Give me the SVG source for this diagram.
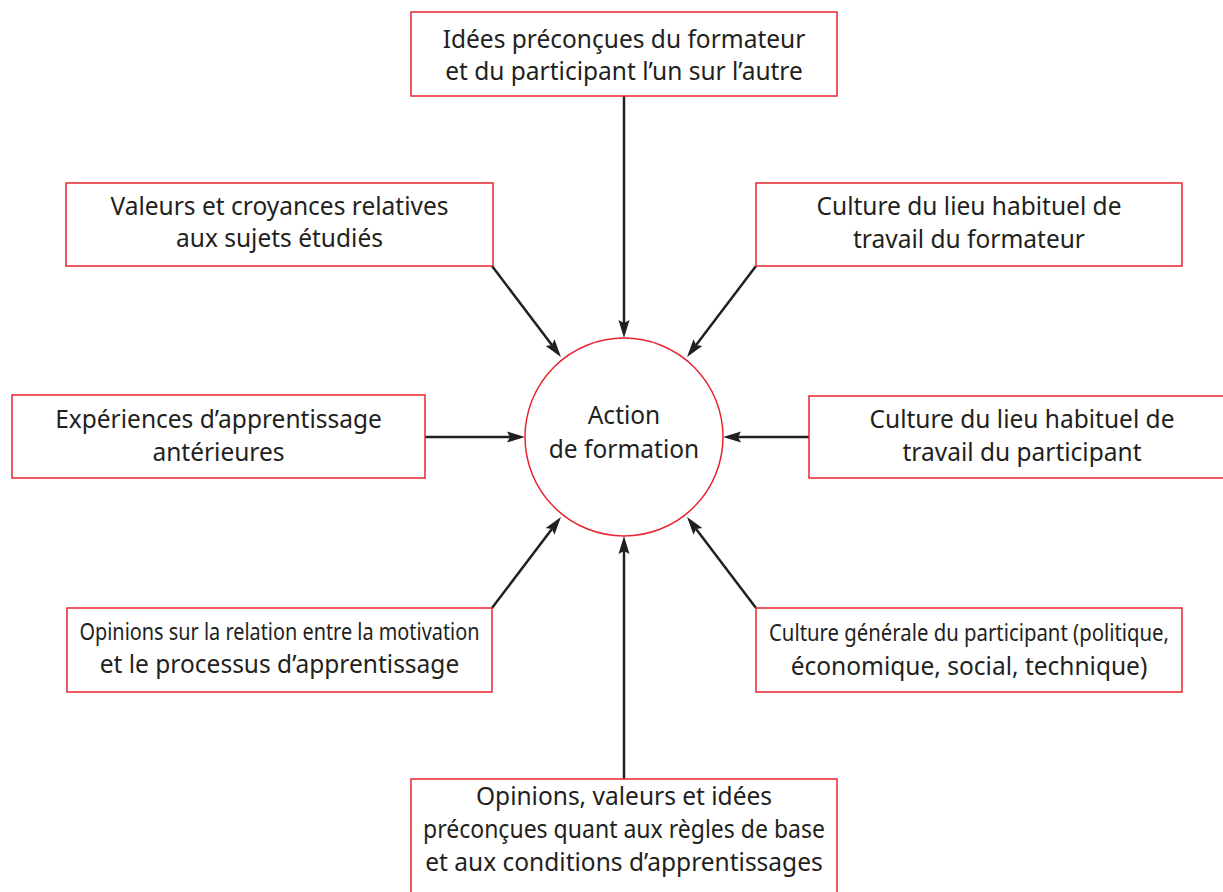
<svg xmlns="http://www.w3.org/2000/svg" width="1223" height="892" viewBox="0 0 1223 892">
<style>
.box{fill:#fff;stroke:#e8242c;stroke-width:1.5}
.circ{fill:#fff;stroke:#e8242c;stroke-width:1.5}
.t{font-family:"Noto Sans","Open Sans",sans-serif;font-size:24.5px;fill:#231f20;text-anchor:middle}
.n{font-size:23px}
.c{stroke:#231f20;stroke-width:2.5;fill:none;marker-end:url(#ah)}
</style>
<defs>
<marker id="ah" markerUnits="userSpaceOnUse" markerWidth="24" markerHeight="14" refX="0" refY="0" orient="auto" viewBox="-4 -7 22 14" overflow="visible">
<path d="M-3,-5.5 L15,0 L-3,5.5 L0,0 Z" fill="#231f20"/>
</marker>
</defs>
<rect width="1223" height="892" fill="#fff"/>
<g id="connectors">
<line class="c" x1="624" y1="96" x2="624" y2="323"/>
<line class="c" x1="624" y1="779" x2="624" y2="551"/>
<line class="c" x1="425" y1="437" x2="510" y2="437"/>
<line class="c" x1="809" y1="437" x2="738" y2="437"/>
<line class="c" x1="492" y1="266" x2="551.9" y2="345"/>
<line class="c" x1="756" y1="266" x2="696.1" y2="345"/>
<line class="c" x1="492" y1="608" x2="551.9" y2="529"/>
<line class="c" x1="756" y1="608" x2="696.1" y2="529"/>
</g>
<g id="center">
<circle class="circ" cx="624" cy="437" r="99"/>
<text class="t" x="624" y="424">Action</text>
<text class="t" x="624" y="458">de formation</text>
</g>
<g id="n-top">
<rect class="box" x="411" y="12" width="426" height="84"/>
<text class="t" x="624" y="48">Idées préconçues du formateur</text>
<text class="t" x="624" y="80">et du participant l’un sur l’autre</text>
</g>
<g id="n-valeurs">
<rect class="box" x="66" y="183" width="427" height="83"/>
<text class="t" x="279.5" y="215">Valeurs et croyances relatives</text>
<text class="t" x="279.5" y="247">aux sujets étudiés</text>
</g>
<g id="n-formateur">
<rect class="box" x="756" y="183" width="426" height="83"/>
<text class="t" x="969" y="215">Culture du lieu habituel de</text>
<text class="t" x="969" y="248">travail du formateur</text>
</g>
<g id="n-experiences">
<rect class="box" x="12" y="395" width="413" height="83"/>
<text class="t" x="218.5" y="428">Expériences d’apprentissage</text>
<text class="t" x="218.5" y="461">antérieures</text>
</g>
<g id="n-participant">
<rect class="box" x="809" y="396" width="416" height="82"/>
<text class="t" x="1022" y="428">Culture du lieu habituel de</text>
<text class="t" x="1022" y="461">travail du participant</text>
</g>
<g id="n-motivation">
<rect class="box" x="67" y="608" width="425" height="84"/>
<text class="t n" x="279.5" y="640" textLength="400" lengthAdjust="spacingAndGlyphs">Opinions sur la relation entre la motivation</text>
<text class="t" x="279.5" y="673">et le processus d’apprentissage</text>
</g>
<g id="n-generale">
<rect class="box" x="756" y="608" width="426" height="84"/>
<text class="t n" x="969" y="641" textLength="400" lengthAdjust="spacingAndGlyphs">Culture générale du participant (politique,</text>
<text class="t" x="969" y="675">économique, social, technique)</text>
</g>
<g id="n-bottom">
<rect class="box" x="411" y="779" width="426" height="120"/>
<text class="t" x="624" y="805">Opinions, valeurs et idées</text>
<text class="t" x="624" y="838" textLength="402" lengthAdjust="spacingAndGlyphs">préconçues quant aux règles de base</text>
<text class="t" x="624" y="871">et aux conditions d’apprentissages</text>
</g>
</svg>
